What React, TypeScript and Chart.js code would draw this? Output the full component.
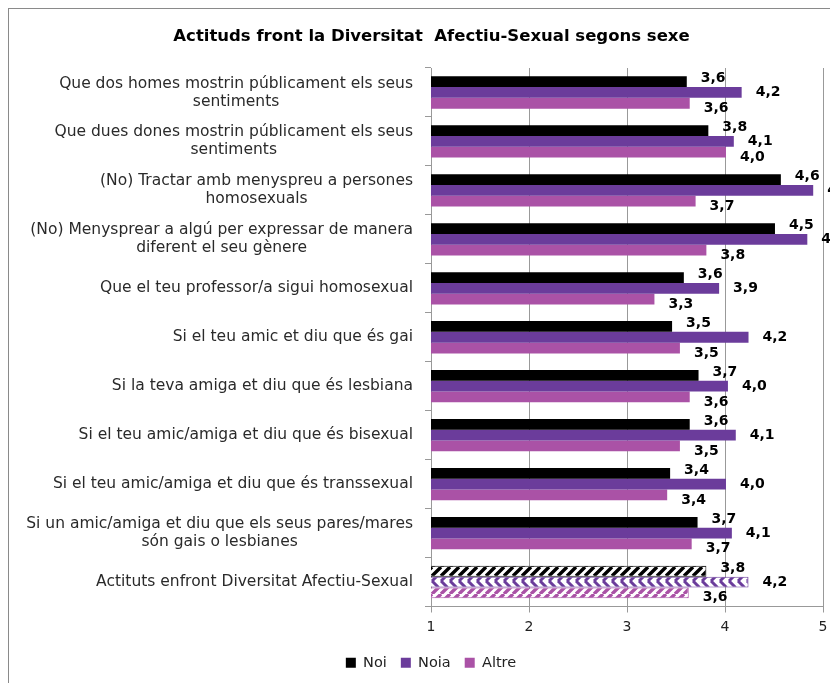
import { useEffect, useRef } from 'react';
import { Chart, registerables } from 'chart.js';

Chart.register(...registerables);

const title = 'Actituds front la Diversitat  Afectiu-Sexual segons sexe';

const categories: string[][] = [
  ['Que dos homes mostrin públicament els seus', 'sentiments'],
  ['Que dues dones mostrin públicament els seus', 'sentiments'],
  ['(No) Tractar amb menyspreu a persones', 'homosexuals'],
  ['(No) Menysprear a algú per expressar de manera', 'diferent el seu gènere'],
  ['Que el teu professor/a sigui homosexual'],
  ['Si el teu amic et diu que és gai'],
  ['Si la teva amiga et diu que és lesbiana'],
  ['Si el teu amic/amiga et diu que és bisexual'],
  ['Si el teu amic/amiga et diu que és transsexual'],
  ['Si un amic/amiga et diu que els seus pares/mares', 'són gais o lesbianes'],
  ['Actituts enfront Diversitat Afectiu-Sexual'],
];

const seriesNames = ['Noi', 'Noia', 'Altre'];
const noi = [3.61, 3.83, 4.57, 4.51, 3.58, 3.46, 3.73, 3.64, 3.44, 3.72, 3.81];
const noia = [4.17, 4.09, 4.9, 4.84, 3.94, 4.24, 4.03, 4.11, 4.01, 4.07, 4.24];
const altre = [3.64, 4.01, 3.7, 3.81, 3.28, 3.54, 3.64, 3.54, 3.41, 3.66, 3.63];

const xMin = 1;
const xMax = 5;

const colors = ['#000000', '#6b3c9b', '#aa52a6'];
const labelDy = [-3, 0, 5];
const FONT = '"DejaVu Sans", sans-serif';

// hatch fills for the summary row
function stripes(color: string) {
  const c = document.createElement('canvas');
  c.width = 9;
  c.height = 9;
  const g = c.getContext('2d')!;
  g.fillStyle = '#fff';
  g.fillRect(0, 0, 9, 9);
  g.strokeStyle = color;
  g.lineWidth = 3.4;
  g.beginPath();
  for (const k of [-9, 0, 9]) {
    g.moveTo(k, 9);
    g.lineTo(k + 9, 0);
  }
  g.stroke();
  return g.createPattern(c, 'repeat')!;
}

function chevrons(color: string) {
  const c = document.createElement('canvas');
  c.width = 9;
  c.height = 11;
  const g = c.getContext('2d')!;
  g.fillStyle = '#fff';
  g.fillRect(0, 0, 9, 11);
  g.strokeStyle = color;
  g.lineWidth = 3;
  g.beginPath();
  for (const k of [-9, 0, 9]) {
    g.moveTo(k, 0);
    g.lineTo(k + 5.5, 5.5);
    g.lineTo(k, 11);
  }
  g.stroke();
  return g.createPattern(c, 'repeat')!;
}

const textPlugin = {
  id: 'textPlugin',
  afterDatasetsDraw(chart: any) {
    const { ctx } = chart;
    ctx.save();
    ctx.font = `bold 14px ${FONT}`;
    ctx.fillStyle = '#000';
    ctx.textAlign = 'left';
    ctx.textBaseline = 'middle';
    chart.data.datasets.forEach((ds: any, di: number) => {
      chart.getDatasetMeta(di).data.forEach((bar: any, i: number) => {
        const v = ds.data[i] as number;
        ctx.fillText(v.toFixed(1).replace('.', ','), bar.x + 14, bar.y + labelDy[di]);
      });
    });
    ctx.restore();
  },
  afterDraw(chart: any) {
    const { ctx, chartArea } = chart;
    const y = chart.scales.y;
    ctx.save();
    ctx.fillStyle = '#000';
    ctx.textAlign = 'center';
    ctx.textBaseline = 'middle';
    ctx.font = `bold 16.5px ${FONT}`;
    ctx.fillText(title, chart.width / 2 + 8, 28);

    ctx.font = `15.5px ${FONT}`;
    ctx.fillStyle = '#2a2a2a';
    categories.forEach((lines, i) => {
      const cy = y.getPixelForValue(i);
      const w = Math.max(...lines.map((l) => ctx.measureText(l).width));
      const cx = chartArea.left - 18 - w / 2;
      lines.forEach((line, j) => {
        ctx.fillText(line, cx, cy + (j - (lines.length - 1) / 2) * 18);
      });
    });
    ctx.restore();
  },
};

export default function App() {
  const canvasRef = useRef<HTMLCanvasElement>(null);
  const chartRef = useRef<Chart | null>(null);

  useEffect(() => {
    if (!canvasRef.current) return;
    if (chartRef.current) chartRef.current.destroy();

    Chart.defaults.font.family = FONT;
    const last = categories.length - 1;
    const hatch = [stripes(colors[0]), chevrons(colors[1]), stripes(colors[2])];

    const series = [noi, noia, altre];
    chartRef.current = new Chart(canvasRef.current, {
      type: 'bar',
      data: {
        labels: categories.map((l) => l.join(' ')),
        datasets: series.map((values, si) => ({
          label: seriesNames[si],
          data: values,
          backgroundColor: (c: any) => (c.dataIndex === last ? hatch[si] : colors[si]),
          borderColor: colors[si],
          borderWidth: (c: any) => (c.dataIndex === last ? 1 : 0),
          categoryPercentage: 0.66,
          barPercentage: 1,
        })),
      },
      options: {
        indexAxis: 'y',
        animation: false,
        responsive: true,
        maintainAspectRatio: false,
        layout: { padding: { top: 59, right: 15, bottom: 3, left: 30 } },
        plugins: {
          legend: {
            position: 'bottom',
            labels: {
              boxWidth: 10,
              boxHeight: 10,
              padding: 14,
              color: '#222',
              font: { size: 14.5 },
            },
          },
          tooltip: { enabled: false },
        },
        scales: {
          x: {
            min: xMin,
            max: xMax,
            ticks: { stepSize: 1, color: '#222', padding: 6, font: { size: 14 } },
            grid: { color: '#999', tickLength: 6 },
            border: { color: '#999' },
            afterFit: (s: any) => {
              s.height = 35;
            },
          },
          y: {
            ticks: { display: false },
            grid: { offset: true, drawOnChartArea: false, tickLength: 6, color: '#999' },
            border: { color: '#999' },
            afterFit: (s: any) => {
              s.width = 392;
            },
          },
        },
      },
      plugins: [textPlugin],
    });

    return () => {
      chartRef.current?.destroy();
      chartRef.current = null;
    };
  }, []);

  return (
    <div
      style={{
        position: 'relative',
        width: 830,
        height: 675,
        boxSizing: 'border-box',
        borderLeft: '1px solid #8a8a8a',
        borderTop: '1px solid #8a8a8a',
      }}
    >
      <canvas ref={canvasRef} />
    </div>
  );
}
